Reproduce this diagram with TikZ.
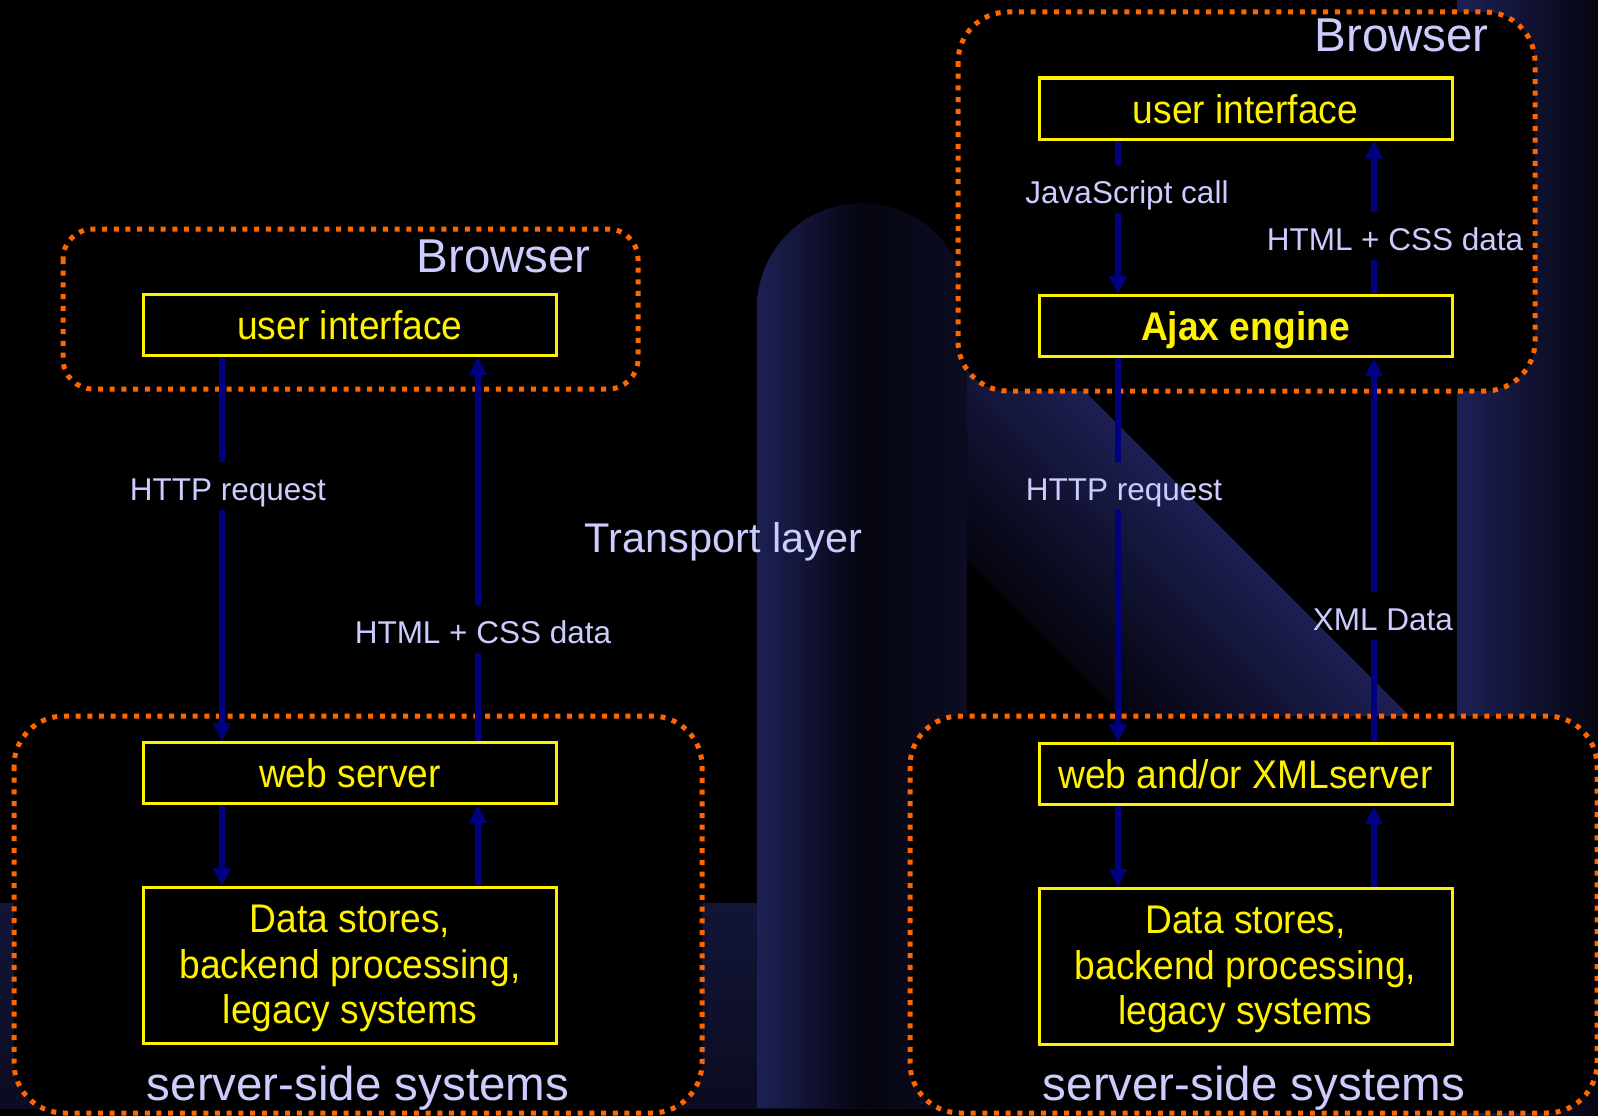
\documentclass[tikz,border=0pt]{standalone}
\usepackage{fontspec}
\setmainfont{Liberation Sans}
\newfontfamily\boxfont{Liberation Sans}[FakeStretch=0.93]
\usetikzlibrary{arrows.meta}

\definecolor{lav}{RGB}{204,204,255}
\definecolor{dotorange}{RGB}{255,102,0}
\definecolor{flowblue}{RGB}{0,0,128}
\definecolor{nbright}{RGB}{29,32,84}
\definecolor{ndark}{RGB}{5,5,16}
\definecolor{nmid}{RGB}{19,21,57}

\begin{document}
\begin{tikzpicture}[x=1pt,y=-1pt,
  dotbox/.style={draw=dotorange, fill=black, line width=5pt, dash pattern=on 5pt off 6.7pt},
  ybox/.style={draw=yellow, fill=black, line width=3pt, minimum width=413pt,
    minimum height=61pt, inner sep=0pt, text=yellow,
    font=\boxfont\fontsize{40}{45.5}\selectfont, text height=29pt, text depth=0pt},
  dsbox/.style={draw=yellow, fill=black, line width=3pt, minimum width=413pt,
    minimum height=156pt, inner sep=0pt, text=yellow,
    font=\boxfont\fontsize{40}{45.5}\selectfont, align=center},
  link/.style={draw=flowblue, line width=6pt},
  flow/.style={link, -{Triangle[width=17pt,length=18pt]}},
  lab/.style={text=lav, font=\fontsize{31.5}{36}\selectfont, inner xsep=0pt,
    inner ysep=8pt, text height=30pt, text depth=2pt, anchor=base},
  heading/.style={text=lav, font=\fontsize{47.5}{52}\selectfont, inner sep=0pt, anchor=base},
]
\useasboundingbox (0,0) rectangle (1598,1116);
\fill[black] (0,0) rectangle (1598,1116);

% ---- shaded "N" in the background ----
\shade[top color=nmid, bottom color=ndark!60!nmid] (0,903) rectangle (967,1108);
\begin{scope}
  \clip (930,0) rectangle (1457,1116);
  \foreach \i in {0,...,23}{
    \pgfmathsetmacro{\ca}{407+286*\i/24}
    \pgfmathsetmacro{\cb}{407+286*(\i+1)/24+0.6}
    \pgfmathsetmacro{\p}{100*((\i+0.5)/24)^1.1}
    \fill[nbright!\p!ndark] (\ca+150,150) -- (\ca+1116,1116) -- (\cb+1116,1116) -- (\cb+150,150) -- cycle;
  }
\end{scope}
\shade[left color=nbright, right color=ndark] (1457,0) rectangle (1598,1116);
\shade[left color=nbright, right color=nmid!45!ndark, middle color=ndark]
  (757,1108) -- (757,308) arc[start angle=180, end angle=360, radius=105] -- (967,1108) -- cycle;

% ---- dotted groups ----
\draw[dotbox, rounded corners=30pt] (63,229) rectangle (638,389);
\draw[dotbox, rounded corners=50pt] (958,12) rectangle (1535,391);
\draw[dotbox, rounded corners=50pt] (14,716) rectangle (702,1113);
\draw[dotbox, rounded corners=50pt] (910,716) rectangle (1597,1113);

% ---- group titles ----
\node[heading, anchor=base east] (brL) at (591,272) {Browser};
\node[heading, anchor=base east] (brR) at (1489,52) {Browser};
\node[heading] (ssL) at (358,1100) {server-side systems};
\node[heading] (ssR) at (1254,1100) {server-side systems};
\node[text=lav, font=\fontsize{41.5}{46}\selectfont, inner sep=0pt, anchor=base] (tl) at (723.5,552) {Transport layer};

% ---- components ----
\node[ybox] (ui1) at (350,325) {user interface};
\node[ybox] (ws1) at (350,773) {web server};
\node[dsbox] (ds1) at (350,965.5) {\rule{0pt}{33.4pt}Data stores,\\backend processing,\\legacy systems};
\node[ybox] (ui2) at (1245.5,108.5) {user interface};
\node[ybox] (aj) at (1245.5,326) {\bfseries Ajax engine};
\node[ybox] (ws2) at (1245.5,774) {web and/or XMLserver};
\node[dsbox] (ds2) at (1245.5,966.5) {\rule{0pt}{33.4pt}Data stores,\\backend processing,\\legacy systems};

% ---- connector labels ----
\node[lab] (hL) at (228,500) {HTTP request};
\node[lab] (cL) at (483,643) {HTML + CSS data};
\node[lab] (js) at (1127,203) {JavaScript call};
\node[lab] (cR) at (1395,250) {HTML + CSS data};
\node[lab] (hR) at (1124,500) {HTTP request};
\node[lab] (xd) at (1383,630) {XML Data};

% ---- connector columns ----
\coordinate (xdL) at (222,0);
\coordinate (xuL) at (478,0);
\coordinate (xdR) at (1118,0);
\coordinate (xuR) at (1374,0);

% classic page model
\draw[link] (ui1.south -| xdL) -- (hL.north -| xdL);
\draw[flow] (hL.south -| xdL) -- (ws1.north -| xdL);
\draw[link] (ws1.north -| xuL) -- (cL.south -| xuL);
\draw[flow] (cL.north -| xuL) -- (ui1.south -| xuL);
\draw[flow] (ws1.south -| xdL) -- (ds1.north -| xdL);
\draw[flow] (ds1.north -| xuL) -- (ws1.south -| xuL);

% Ajax model
\draw[link] (ui2.south -| xdR) -- (js.north -| xdR);
\draw[flow] (js.south -| xdR) -- (aj.north -| xdR);
\draw[link] (aj.north -| xuR) -- (cR.south -| xuR);
\draw[flow] (cR.north -| xuR) -- (ui2.south -| xuR);
\draw[link] (aj.south -| xdR) -- (hR.north -| xdR);
\draw[flow] (hR.south -| xdR) -- (ws2.north -| xdR);
\draw[link] (ws2.north -| xuR) -- (xd.south -| xuR);
\draw[flow] (xd.north -| xuR) -- (aj.south -| xuR);
\draw[flow] (ws2.south -| xdR) -- (ds2.north -| xdR);
\draw[flow] (ds2.north -| xuR) -- (ws2.south -| xuR);
\end{tikzpicture}
\end{document}
